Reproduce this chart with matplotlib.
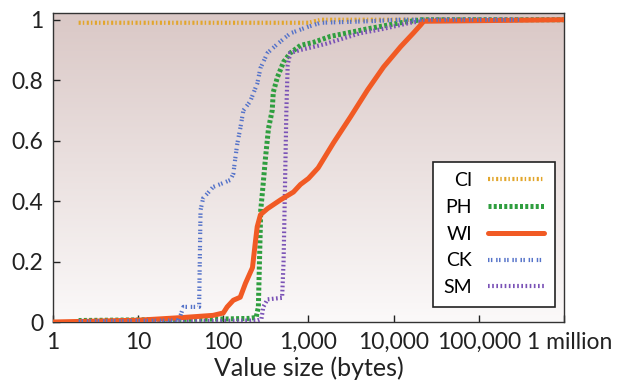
import matplotlib.pyplot as plt
import numpy as np
from matplotlib.ticker import NullLocator
from matplotlib.transforms import ScaledTranslation

plt.rcParams["font.family"] = ["Lato", "DejaVu Sans"]

# Tamaños de valor (bytes) y fracción acumulada
ci_x = [2, 1000, 1400, 150000]
ci_y = [0.99, 0.99, 1.0, 1.0]

ph_x = [2, 100, 200, 243, 258, 275, 288, 312, 339, 375, 386, 432, 509, 611,
        805, 1140, 1815, 4950, 12000, 21000, 1000000]
ph_y = [0.005, 0.01, 0.012, 0.015, 0.05, 0.37, 0.43, 0.54, 0.64, 0.70, 0.76,
        0.81, 0.86, 0.89, 0.915, 0.925, 0.945, 0.97, 0.99, 1.0, 1.0]

wi_x = [1, 10, 34, 76, 100, 111, 131, 158, 182, 220, 237, 250, 273, 330, 469,
        666, 805, 1000, 1300, 1968, 3120, 4946, 7628, 12090, 17180, 20790,
        22540, 1000000]
wi_y = [0.0, 0.006, 0.015, 0.022, 0.03, 0.05, 0.072, 0.082, 0.128, 0.18, 0.26,
        0.315, 0.355, 0.375, 0.404, 0.43, 0.455, 0.475, 0.51, 0.593, 0.679,
        0.768, 0.844, 0.911, 0.957, 0.983, 0.995, 1.0]

ck_x = [2, 30, 34, 52, 54, 58, 65, 76, 100, 121, 131, 138, 146, 158, 172, 207,
        251, 273, 330, 433, 611, 973, 1384, 5000, 12000, 300000]
ck_y = [0.002, 0.005, 0.05, 0.05, 0.37, 0.41, 0.425, 0.447, 0.46, 0.47, 0.49,
        0.54, 0.59, 0.64, 0.70, 0.73, 0.79, 0.84, 0.89, 0.92, 0.955, 0.976,
        0.99, 0.995, 1.0, 1.0]

sm_x = [2, 250, 280, 295, 330, 490, 510, 530, 550, 570, 611, 805, 1140, 1580,
        4000, 7600, 15700, 29500, 1000000]
sm_y = [0.0, 0.005, 0.01, 0.05, 0.075, 0.08, 0.2, 0.45, 0.7, 0.85, 0.89, 0.90,
        0.91, 0.92, 0.955, 0.97, 0.99, 1.0, 1.0]

xticks = [1, 10, 100, 1000, 10000, 100000, 1000000]
xtick_labels = ["1", "10", "100", "1,000", "10,000", "100,000", "1 million"]
yticks = [0, 0.2, 0.4, 0.6, 0.8, 1.0]
ytick_labels = ["0", "0.2", "0.4", "0.6", "0.8", "1"]


def fondo_degradado(ax):
    """Fondo rosado que se aclara hacia abajo."""
    arriba = np.array([218, 200, 198]) / 255.0
    abajo = np.array([251, 249, 249]) / 255.0
    t = np.linspace(0.0, 1.0, 256)[:, None]
    grad = (1 - t) * arriba + t * abajo
    ax.imshow(grad[:, None, :], extent=[0, 1, 0, 1], transform=ax.transAxes,
              aspect="auto", zorder=0, interpolation="bilinear")


def main():
    fig = plt.figure(figsize=(6.19, 3.85), dpi=100)
    ax = fig.add_axes([0.0856, 0.1636, 0.8255, 0.8024])
    fondo_degradado(ax)

    ax.plot(ci_x, ci_y, color="#e2a62c", lw=3.0, ls=(0, (0.5, 0.5, 0.35, 0.6)),
            label="CI", zorder=2, dash_capstyle="butt")
    ax.plot(ph_x, ph_y, color="#2f9e3f", lw=3.6, ls=(0, (0.6, 0.45)),
            label="PH", zorder=3, dash_capstyle="butt")
    ax.plot(sm_x, sm_y, color="#7a52b6", lw=3.0, ls=(0, (0.4, 0.6)),
            label="SM", zorder=4, dash_capstyle="butt")
    ax.plot(wi_x, wi_y, color="#f15a24", lw=3.6, ls="-",
            label="WI", zorder=5, solid_capstyle="round")
    ax.plot(ck_x, ck_y, color="#5573c9", lw=3.0,
            ls=(0, (0.35, 0.35, 0.35, 0.9)),
            label="CK", zorder=6, dash_capstyle="butt")

    ax.set_xscale("log")
    ax.set_xlim(1, 1e6)
    ax.set_ylim(0, 1.022)
    ax.set_xticks(xticks)
    ax.set_xticklabels(xtick_labels)
    ax.xaxis.set_minor_locator(NullLocator())
    ax.set_yticks(yticks)
    ax.set_yticklabels(ytick_labels)
    ax.tick_params(direction="in", length=5, width=1, labelsize=16.5, pad=7,
                   colors="#222222", top=False, right=False)
    for lado in ax.spines.values():
        lado.set_color("#333333")
        lado.set_linewidth(1.0)
    ax.set_xlabel("Value size (bytes)", fontsize=18, color="#222222", labelpad=3)

    # "1 million" queda un poco a la derecha de su marca
    etiqueta = ax.get_xticklabels()[-1]
    etiqueta.set_transform(etiqueta.get_transform()
                           + ScaledTranslation(6 / 100, 0, fig.dpi_scale_trans))

    handles, labels = ax.get_legend_handles_labels()
    orden = ["CI", "PH", "WI", "CK", "SM"]
    pares = {l: h for h, l in zip(handles, labels)}
    leg = ax.legend([pares[k] for k in orden], orden, loc="lower right",
                    bbox_to_anchor=(0.982, 0.049), borderaxespad=0,
                    markerfirst=False, fontsize=14, handlelength=2.9,
                    handletextpad=0.8, labelspacing=0.5, fancybox=False,
                    framealpha=1, edgecolor="#222222", borderpad=0.55)
    leg.get_frame().set_linewidth(1.2)

    fig.savefig("out.png", dpi=100)
    plt.close(fig)


if __name__ == "__main__":
    main()
